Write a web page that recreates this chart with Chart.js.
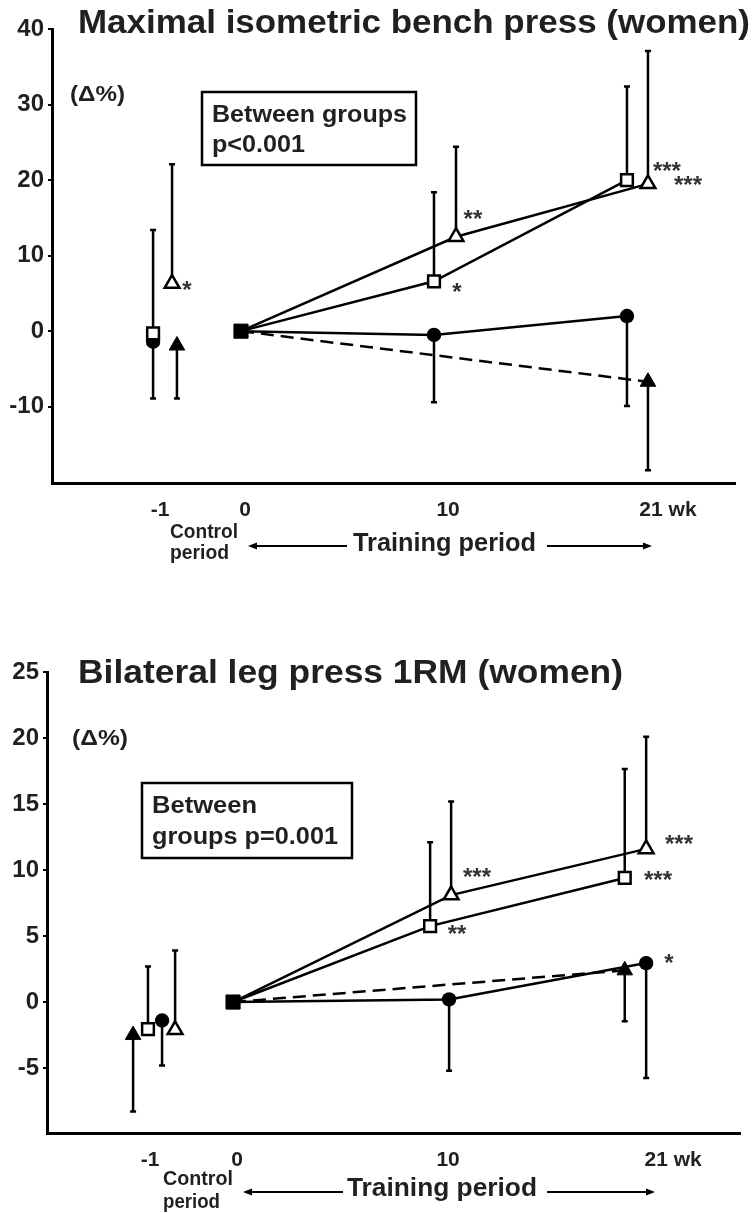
<!DOCTYPE html>
<html>
<head>
<meta charset="utf-8">
<script src="https://cdn.jsdelivr.net/npm/chart.js@4.4.1/dist/chart.umd.min.js"></script>
<style>
  html, body { margin: 0; padding: 0; background: #fff; }
  .panel { position: absolute; left: 0; width: 754px; }
  #benchPanel { top: 0; height: 610px; }
  #legPanel { top: 610px; height: 603px; }
</style>
</head>
<body>
<div class="panel" id="benchPanel"><canvas id="benchChart"></canvas></div>
<div class="panel" id="legPanel"><canvas id="legChart"></canvas></div>
<script>
// x values are plotted positions in weeks (groups are offset sideways
// around each time point, as in the original figure)

// -- Maximal isometric bench press (women) ----------------------------
const BENCH_X_TICKS = [-3.97, 0.2, 10.15, 20.93];
const BENCH_X_LABELS = ["-1", "0", "10", "21 wk"];
const BENCH_Y_TICKS = [-10, 0, 10, 20, 30, 40];

const BENCH_SQ_X = [-4.31, 0, 9.46, 18.92];
const BENCH_SQ_Y = [-0.3, 0, 6.6, 20.0];
const BENCH_SQ_ERR = [13.4, null, 18.4, 32.4];

const BENCH_TRI_X = [-3.38, 0, 10.54, 19.95];
const BENCH_TRI_Y = [6.3, 0, 12.5, 19.5];
const BENCH_TRI_ERR = [22.1, null, 24.4, 37.1];

const BENCH_CIR_X = [-4.31, 0, 9.46, 18.92];
const BENCH_CIR_Y = [-1.4, 0, -0.5, 2.0];
const BENCH_CIR_ERR = [-8.9, null, -9.4, -9.9];

const BENCH_FTRI_X = [-3.14, 0, 19.95];
const BENCH_FTRI_Y = [-1.9, 0, -6.7];
const BENCH_FTRI_ERR = [-8.9, null, -18.4];

const BENCH_STAR_TXT = ["*", "*", "**", "***", "***"];
const BENCH_STAR_X = [-2.65, 10.59, 11.37, 20.88, 21.91];
const BENCH_STAR_Y = [6.1, 5.8, 15.4, 21.85, 20.0];

// -- Bilateral leg press 1RM (women) ----------------------------------
const LEG_X_TICKS = [-4.07, 0.2, 10.54, 21.57];
const LEG_X_LABELS = ["-1", "0", "10", "21 wk"];
const LEG_Y_TICKS = [-5, 0, 5, 10, 15, 20, 25];

const LEG_SQ_X = [-4.17, 0, 9.66, 19.2];
const LEG_SQ_Y = [-2.05, 0, 5.75, 9.4];
const LEG_SQ_ERR = [2.7, null, 12.1, 17.65];

const LEG_TRI_X = [-2.84, 0, 10.69, 20.25];
const LEG_TRI_Y = [-2.1, 0, 8.1, 11.6];
const LEG_TRI_ERR = [3.9, null, 15.2, 20.1];

const LEG_CIR_X = [-3.48, 0, 10.59, 20.25];
const LEG_CIR_Y = [-1.4, 0, 0.2, 2.95];
const LEG_CIR_ERR = [-4.8, null, -5.2, -5.75];

const LEG_FTRI_X = [-4.9, 0, 19.2];
const LEG_FTRI_Y = [-2.5, 0, 2.4];
const LEG_FTRI_ERR = [-8.3, null, -1.45];

const LEG_STAR_TXT = ["**", "***", "***", "***", "*"];
const LEG_STAR_X = [10.98, 11.96, 20.83, 21.86, 21.37];
const LEG_STAR_Y = [5.53, 9.85, 9.55, 12.35, 3.33];

// -- Drawing helpers ---------------------------------------------------
const FONT = '"Liberation Sans", Arial, Helvetica, sans-serif';
const INK = "#231f20";

Chart.defaults.font.family = FONT;
Chart.defaults.color = INK;

/** Bold text, left-aligned on its baseline, squeezed to a given width. */
function fitText(ctx, text, x, y, w, size) {
  ctx.save();
  ctx.font = `bold ${size}px ${FONT}`;
  const m = ctx.measureText(text).width;
  ctx.translate(x, y);
  ctx.scale(w / m, 1);
  ctx.textAlign = "left";
  ctx.textBaseline = "alphabetic";
  ctx.fillStyle = INK;
  ctx.fillText(text, 0, 0);
  ctx.restore();
}

function arrow(ctx, xFrom, xTo, y) {
  const dir = Math.sign(xTo - xFrom);
  ctx.beginPath();
  ctx.moveTo(xFrom, y);
  ctx.lineTo(xTo - dir * 7, y);
  ctx.stroke();
  ctx.beginPath();
  ctx.moveTo(xTo, y);
  ctx.lineTo(xTo - dir * 9, y - 3.5);
  ctx.lineTo(xTo - dir * 9, y + 3.5);
  ctx.closePath();
  ctx.fill();
}

// one-sided SD bars: from each point to its errEnds value
const errorBars = {
  id: "errorBars",
  beforeDatasetsDraw(chart) {
    const { ctx } = chart;
    const { x, y } = chart.scales;
    ctx.save();
    ctx.strokeStyle = "#000";
    ctx.lineWidth = 2.5;
    chart.data.datasets.forEach((ds) => {
      if (!ds.errEnds) return;
      ds.data.forEach((p, i) => {
        const end = ds.errEnds[i];
        if (end == null) return;
        const px = x.getPixelForValue(p.x);
        const y0 = y.getPixelForValue(p.y);
        const y1 = y.getPixelForValue(end);
        ctx.beginPath();
        ctx.moveTo(px, y0);
        ctx.lineTo(px, y1);
        ctx.moveTo(px - 3, y1);
        ctx.lineTo(px + 3, y1);
        ctx.stroke();
      });
    });
    ctx.restore();
  },
};

function figureText(spec) {
  return {
    id: "figureText",
    afterDraw(chart) {
      const { ctx } = chart;
      const { x, y } = chart.scales;
      spec.texts.forEach(([t, tx, ty, w, size]) => fitText(ctx, t, tx, ty, w, size));

      ctx.save();
      ctx.strokeStyle = "#000";
      ctx.fillStyle = "#000";
      ctx.lineWidth = 2.5;
      const [bx0, by0, bx1, by1] = spec.box;
      ctx.strokeRect(bx0, by0, bx1 - bx0, by1 - by0);
      ctx.lineWidth = 2;
      spec.arrows.forEach(([a, b, ay]) => arrow(ctx, a, b, ay));

      // significance asterisks, placed in data units
      ctx.font = `bold 24px ${FONT}`;
      ctx.fillStyle = "#333";
      ctx.textAlign = "center";
      ctx.textBaseline = "alphabetic";
      const m = ctx.measureText("*");
      const lift = (m.actualBoundingBoxDescent - m.actualBoundingBoxAscent) / 2;
      spec.starTxt.forEach((t, i) => {
        ctx.fillText(t, x.getPixelForValue(spec.starX[i]),
          y.getPixelForValue(spec.starY[i]) - lift);
      });
      ctx.restore();
    },
  };
}

function group(xs, ys, errs, style, dashed) {
  return {
    data: xs.map((v, i) => ({ x: v, y: ys[i] })),
    errEnds: errs,
    borderColor: "#000",
    borderWidth: 2.5,
    borderDash: dashed ? [13, 7] : [],
    segment: {
      // control-period point is not joined to the training curve
      borderColor: (c) => (c.p0DataIndex === 0 ? "rgba(0,0,0,0)" : "#000"),
    },
    pointStyle: style.shape,
    pointRadius: (c) => (c.dataIndex === 1 ? 0 : style.r),
    pointBackgroundColor: style.fill,
    pointBorderColor: "#000",
    pointBorderWidth: style.bw,
  };
}

const OPEN_SQ = { shape: "rect", r: 8.3, fill: "#fff", bw: 2.5 };
const OPEN_TRI = { shape: "triangle", r: 8.5, fill: "#fff", bw: 2.5 };
const DOT = { shape: "circle", r: 7.2, fill: "#000", bw: 0 };
const FILL_TRI = { shape: "triangle", r: 9, fill: "#000", bw: 1 };

function makeChart(canvasId, spec) {
  const baseline = {
    data: [{ x: 0, y: 0 }],
    showLine: false,
    pointStyle: "rect",
    pointRadius: 10,
    pointBackgroundColor: "#000",
    pointBorderColor: "#000",
    pointBorderWidth: 1,
  };
  return new Chart(document.getElementById(canvasId), {
    type: "line",
    data: { datasets: [baseline, ...spec.groups] },
    plugins: [errorBars, figureText(spec)],
    options: {
      animation: false,
      responsive: true,
      maintainAspectRatio: false,
      events: [],
      layout: { padding: { top: spec.padTop, right: spec.padRight, left: 0, bottom: 0 } },
      plugins: { legend: { display: false }, tooltip: { enabled: false } },
      scales: {
        x: {
          type: "linear",
          min: spec.xMin,
          max: spec.xMax,
          afterBuildTicks: (s) => { s.ticks = spec.xTicks.map((v) => ({ value: v })); },
          afterFit: (s) => { s.height = spec.xAxisH; },
          ticks: {
            autoSkip: false,
            maxRotation: 0,
            padding: 7,
            color: INK,
            font: { size: 21, weight: "bold" },
            callback: (v, i) => spec.xLabels[i],
          },
          grid: { display: false },
          border: { display: true, color: "#000", width: 3 },
        },
        y: {
          min: spec.yMin,
          max: spec.yMax,
          afterBuildTicks: (s) => { s.ticks = spec.yTicks.map((v) => ({ value: v })); },
          afterFit: (s) => { s.width = spec.yAxisW; },
          ticks: {
            padding: 4,
            color: INK,
            font: { size: 24, weight: "bold" },
          },
          grid: { drawOnChartArea: false, drawTicks: true, tickLength: 4, color: "#000", lineWidth: 2 },
          border: { display: true, color: "#000", width: 3 },
        },
      },
    },
  });
}

makeChart("benchChart", {
  groups: [
    group(BENCH_SQ_X, BENCH_SQ_Y, BENCH_SQ_ERR, OPEN_SQ),
    group(BENCH_TRI_X, BENCH_TRI_Y, BENCH_TRI_ERR, OPEN_TRI),
    group(BENCH_CIR_X, BENCH_CIR_Y, BENCH_CIR_ERR, DOT),
    group(BENCH_FTRI_X, BENCH_FTRI_Y, BENCH_FTRI_ERR, FILL_TRI, true),
  ],
  xMin: -9.265, xMax: 24.216, yMin: -20.1, yMax: 40,
  xTicks: BENCH_X_TICKS, xLabels: BENCH_X_LABELS, yTicks: BENCH_Y_TICKS,
  padTop: 29, padRight: 19, yAxisW: 52, xAxisH: 127,
  starTxt: BENCH_STAR_TXT, starX: BENCH_STAR_X, starY: BENCH_STAR_Y,
  texts: [
    ["Maximal isometric bench press (women)", 78, 33, 672, 34],
    ["(Δ%)", 70, 101, 55, 22],
    ["Between groups", 212, 122, 195, 23],
    ["p<0.001", 212, 152, 93, 23],
    ["Control", 170, 538, 68, 20],
    ["period", 170, 559, 59, 20],
    ["Training period", 353, 551, 183, 26],
  ],
  box: [202, 92, 416, 165],
  arrows: [[347, 248, 546], [547, 652, 546]],
});

makeChart("legChart", {
  groups: [
    group(LEG_SQ_X, LEG_SQ_Y, LEG_SQ_ERR, OPEN_SQ),
    group(LEG_TRI_X, LEG_TRI_Y, LEG_TRI_ERR, OPEN_TRI),
    group(LEG_CIR_X, LEG_CIR_Y, LEG_CIR_ERR, DOT),
    group(LEG_FTRI_X, LEG_FTRI_Y, LEG_FTRI_ERR, FILL_TRI, true),
  ],
  xMin: -9.12, xMax: 24.85, yMin: -9.92, yMax: 25,
  xTicks: LEG_X_TICKS, xLabels: LEG_X_LABELS, yTicks: LEG_Y_TICKS,
  padTop: 62, padRight: 14, yAxisW: 47, xAxisH: 80,
  starTxt: LEG_STAR_TXT, starX: LEG_STAR_X, starY: LEG_STAR_Y,
  texts: [
    ["Bilateral leg press 1RM (women)", 78, 73, 545, 34],
    ["(Δ%)", 72, 135, 56, 22],
    ["Between", 152, 203, 105, 23],
    ["groups p=0.001", 152, 234, 186, 23],
    ["Control", 163, 575, 70, 20],
    ["period", 163, 598, 57, 20],
    ["Training period", 347, 586, 190, 26],
  ],
  box: [142, 173, 352, 248],
  arrows: [[343, 243, 582], [547, 655, 582]],
});
</script>
</body>
</html>
